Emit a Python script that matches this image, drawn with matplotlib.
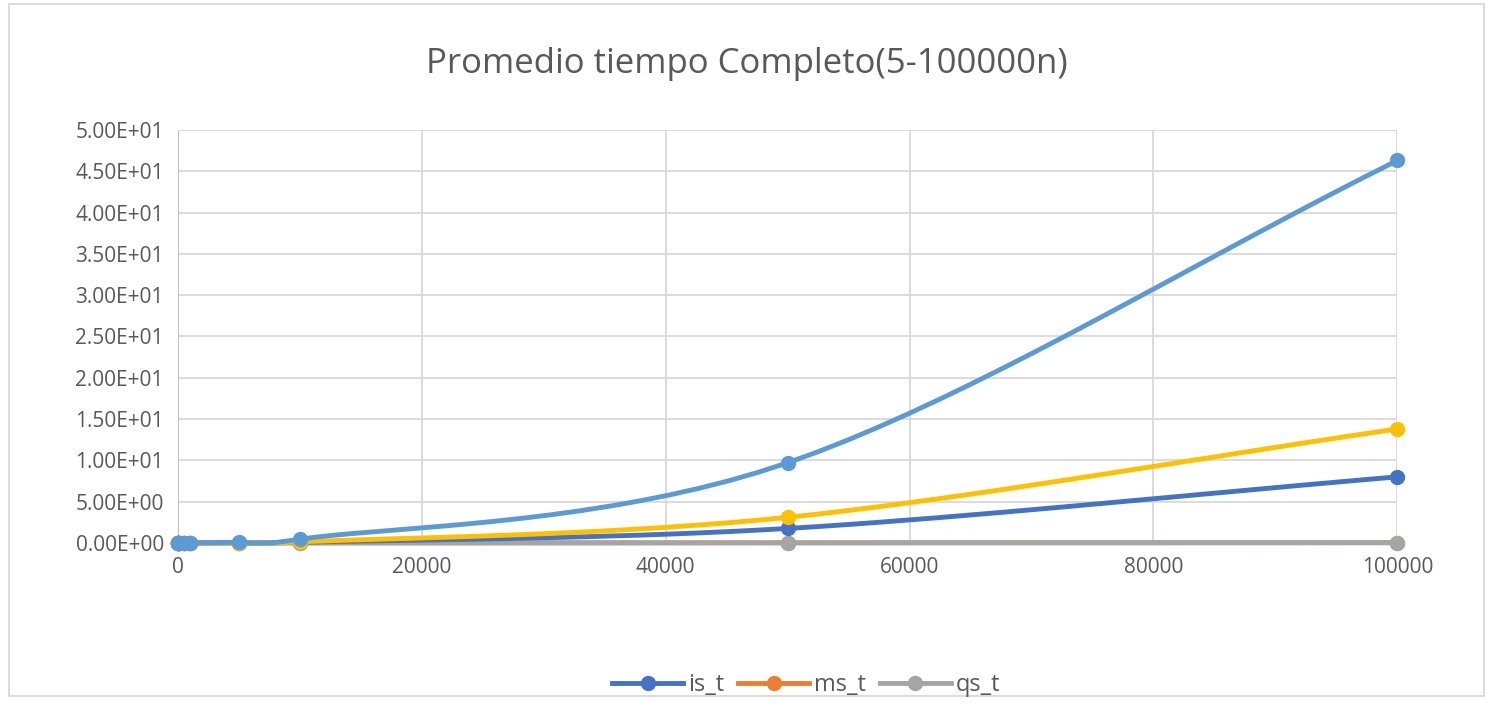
import numpy as np
import matplotlib
matplotlib.use("Agg")
import matplotlib.pyplot as plt
from matplotlib.ticker import FuncFormatter

n = [5, 10, 50, 100, 500, 1000, 5000, 10000, 50000, 100000]
is_t = [0, 0, 0, 0, 0, 0.001, 0.02, 0.08, 1.75, 8.0]
ms_t = [0, 0, 0, 0, 0, 0, 0.001, 0.003, 0.015, 0.03]
qs_t = [0, 0, 0, 0, 0, 0, 0.001, 0.002, 0.01, 0.02]
s4 = [0, 0, 0, 0, 0.001, 0.004, 0.1, 0.45, 9.7, 46.3]
s5 = [0, 0, 0, 0, 0, 0.001, 0.03, 0.12, 3.1, 13.8]
labels = ["is_t", "ms_t", "qs_t"]

def smooth(x, y, k=20):
    x = np.asarray(x, float); y = np.asarray(y, float)
    px = np.concatenate([[2*x[0]-x[1]], x, [2*x[-1]-x[-2]]])
    py = np.concatenate([[2*y[0]-y[1]], y, [2*y[-1]-y[-2]]])
    ox, oy = [], []
    for i in range(1, len(px)-2):
        t = np.linspace(0, 1, k)
        for arr, out in ((px, ox), (py, oy)):
            p0, p1, p2, p3 = arr[i-1], arr[i], arr[i+1], arr[i+2]
            out.extend(0.5*((2*p1) + (-p0+p2)*t + (2*p0-5*p1+4*p2-p3)*t**2 + (-p0+3*p1-3*p2+p3)*t**3))
    return ox, np.maximum(oy, 0)

plt.rcParams['font.family'] = ['Open Sans', 'DejaVu Sans']
fig = plt.figure(figsize=(14.93, 7.06), dpi=100)
ax = fig.add_axes([0.119, 0.231, 0.817, 0.585])
series = [(ms_t, "#ED7D31", labels[1]), (qs_t, "#A5A5A5", labels[2]), (is_t, "#4472C4", labels[0]),
          (s5, "#FFC000", None), (s4, "#5B9BD5", None)]
handles = {}
for y, c, lab in series:
    sx, sy = smooth(n, y)
    ax.plot(sx, sy, color=c, lw=3.5, solid_capstyle="round", zorder=3, clip_on=False)
    ax.plot(n, y, 'o', color=c, ms=10, zorder=4, clip_on=False)
    if lab:
        handles[lab] = ax.plot([], [], '-o', color=c, lw=3.5, ms=10, label=lab)[0]

ax.set_xlim(0, 100000)
ax.set_ylim(0, 50)
ax.set_xticks(np.arange(0, 100001, 20000))
ax.set_yticks(np.arange(0, 50.1, 5))
ax.yaxis.set_major_formatter(FuncFormatter(lambda v, p: f"{v:.2E}"))
ax.grid(True, color="#D9D9D9", lw=1.3)
for s in ["top", "right", "left", "bottom"]:
    ax.spines[s].set_visible(False)
ax.tick_params(length=0, labelsize=15, colors="#595959", pad=10)
ax.axvline(0, color="#BFBFBF", lw=1.3, zorder=1)
ax.set_axisbelow(True)
fig.text(0.5, 0.91, "Promedio tiempo Completo(5-100000n)", ha="center", va="center",
         fontsize=25, color="#595959")
fig.legend([handles[l] for l in labels], labels, loc="center", bbox_to_anchor=(0.54, 0.03),
           ncol=3, frameon=False, fontsize=17, handlelength=3, columnspacing=0.6, handletextpad=0.2,
           labelcolor="#595959")
fig.patches.append(plt.Rectangle((0.006, 0.014), 0.988, 0.98, transform=fig.transFigure,
                                 fill=False, ec="#D9D9D9", lw=1.3))
fig.savefig("out.png", dpi=100)
